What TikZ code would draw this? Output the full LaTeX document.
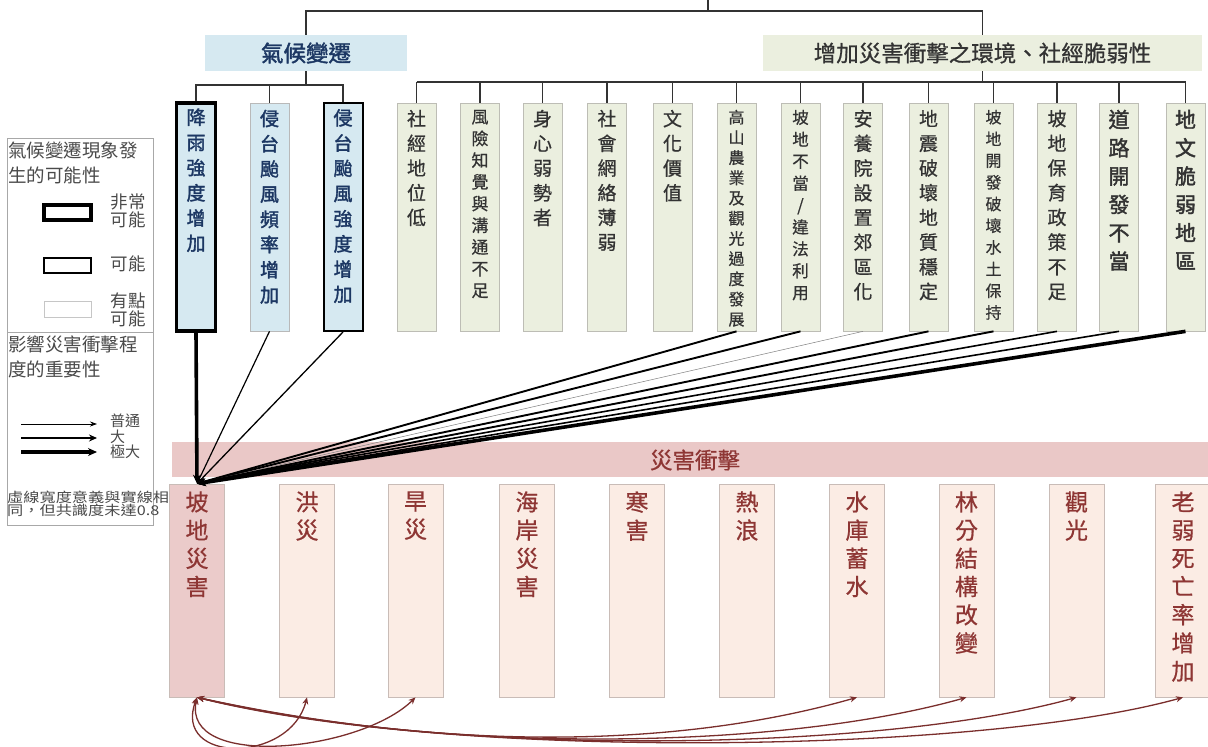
\documentclass[tikz,border=0pt]{standalone}
\usepackage{fontspec}
\usepackage{graphicx}
\newfontfamily\cjk{Noto Sans CJK TC}
\newfontfamily\cjkm{Noto Sans CJK TC}[FakeBold=0.7]
\newfontfamily\cjkb{Noto Sans CJK TC}[FakeBold=1.8]
\usetikzlibrary{arrows.meta,calc}
\definecolor{blfill}{HTML}{D6E9F1}
\definecolor{bltext}{HTML}{1C3763}
\definecolor{bgfill}{HTML}{EBEFDF}
\definecolor{bgbord}{HTML}{BDBDB5}
\definecolor{bgtext}{HTML}{333333}
\definecolor{pkband}{HTML}{EAC8C7}
\definecolor{pkfill1}{HTML}{EBCBCA}
\definecolor{pkfill}{HTML}{FBECE4}
\definecolor{pkbord}{HTML}{C9BCB7}
\definecolor{rdtext}{HTML}{8E3634}
\definecolor{rdline}{HTML}{7A2E2C}
\definecolor{conn}{HTML}{333333}
\definecolor{legc}{HTML}{A8A8A8}
\definecolor{legtext}{HTML}{4A4A4A}
\tikzset{
  connline/.style={draw=conn, line width=1.3pt},
  blbox/.style={draw=black, fill=blfill, minimum width=39pt, minimum height=228pt, inner sep=0pt},
  bgbox/.style={draw=bgbord, fill=bgfill, line width=0.7pt, minimum width=39pt, minimum height=228pt, inner sep=0pt},
  bltxt/.style={text=bltext, inner sep=0pt, align=center, font=\cjkb\fontsize{19}{25.2}\selectfont},
  bgtxt/.style={text=bgtext, inner sep=0pt, align=center, font=\cjkm\fontsize{19}{24.7}\selectfont},
  btbox/.style={draw=pkbord, fill=pkfill, line width=0.7pt, minimum width=55pt, minimum height=213pt, inner sep=0pt},
  bttxt/.style={text=rdtext, inner sep=0pt, align=center, font=\cjkm\fontsize{23}{28.2}\selectfont},
  fanA/.style={draw=gray, line width=0.5pt, -{Stealth[length=6pt,width=5pt]}},
  fanB/.style={draw=black, line width=1.2pt, -{Stealth[length=7pt,width=6pt]}},
  fanC/.style={draw=black, line width=1.9pt, -{Stealth[length=8pt,width=7pt]}},
  fanD/.style={draw=black, line width=3.6pt, -{Stealth[length=9pt,width=8pt]}},
  btarr/.style={draw=rdline, line width=1.3pt, {Stealth[length=7pt,width=6pt]}-{Stealth[length=7pt,width=6pt]}},
  lgtxt/.style={text=legtext, inner sep=0pt, font=\cjk\fontsize{18.5}{24.5}\selectfont, align=left},
  lgsm/.style={text=legtext, inner sep=0pt, font=\cjk\fontsize{17.5}{18.5}\selectfont, align=left},
  lgar/.style={text=legtext, inner sep=0pt, font=\cjk\fontsize{15}{16}\selectfont, align=left},
}
\newcommand\topbox[5]{%
  \node[#3] (#1) at (#2,217) {};
  \node[#4, anchor=north] (#1t) at ([yshift=-7pt]#1.north) {#5};
}
\newcommand\botbox[4]{%
  \node[btbox, #3] (#1) at (#2,590.5) {};
  \node[bttxt, anchor=north] (#1t) at ([yshift=-7.5pt]#1.north) {#4};
}
\begin{document}
\begin{tikzpicture}[x=1pt,y=-1pt]
\useasboundingbox (0,0) rectangle (1208,747);
\fill[white] (0,0) rectangle (1208,747);

% headers
\node[fill=blfill, minimum width=202pt, minimum height=36pt, inner sep=0pt, text=bltext, font=\cjkb\fontsize{22.5}{24}\selectfont] (hL) at (306,53) {氣候變遷};
\node[fill=bgfill, minimum width=439pt, minimum height=36pt, inner sep=0pt, text=bgtext, font=\cjkm\fontsize{22.5}{24}\selectfont] (hR) at (982.5,53) {增加災害衝擊之環境、社經脆弱性};

% top connectors
\coordinate (topEnd) at (708,0);
\coordinate (topM) at (708,11);
\coordinate (topL) at (306,11);
\coordinate (topR) at (982.5,11);
\draw[connline] (topEnd) -- (topM);
\draw[connline] (hL.north) -- (topL) -- (topR) -- (hR.north);

% top boxes
\topbox{t1}{196}{blbox, line width=3.4pt}{bltxt}{降\\雨\\強\\度\\增\\加}
\topbox{t2}{269.5}{blbox, draw=gray!55, line width=0.7pt}{bltxt}{侵\\台\\颱\\風\\頻\\率\\增\\加}
\topbox{t3}{343}{blbox, line width=2pt}{bltxt}{侵\\台\\颱\\風\\強\\度\\增\\加}
\topbox{t4}{416.5}{bgbox}{bgtxt}{社\\經\\地\\位\\低}
\topbox{t5}{480}{bgbox}{bgtxt, font=\cjkm\fontsize{17}{21.7}\selectfont}{風\\險\\知\\覺\\與\\溝\\通\\不\\足}
\topbox{t6}{542.5}{bgbox}{bgtxt}{身\\心\\弱\\勢\\者}
\topbox{t7}{607}{bgbox}{bgtxt}{社\\會\\網\\絡\\薄\\弱}
\topbox{t8}{672.5}{bgbox}{bgtxt}{文\\化\\價\\值}
\topbox{t9}{736.5}{bgbox}{bgtxt, font=\cjkm\fontsize{16}{20.2}\selectfont}{高\\山\\農\\業\\及\\觀\\光\\過\\度\\發\\展}
\topbox{t10}{800.5}{bgbox}{bgtxt, font=\cjkm\fontsize{16.5}{21.9}\selectfont}{坡\\地\\不\\當\\/\\違\\法\\利\\用}
\topbox{t11}{863}{bgbox}{bgtxt}{安\\養\\院\\設\\置\\郊\\區\\化}
\topbox{t12}{928.5}{bgbox}{bgtxt}{地\\震\\破\\壞\\地\\質\\穩\\定}
\topbox{t13}{993.5}{bgbox}{bgtxt, font=\cjkm\fontsize{16}{21.7}\selectfont}{坡\\地\\開\\發\\破\\壞\\水\\土\\保\\持}
\topbox{t14}{1057}{bgbox}{bgtxt}{坡\\地\\保\\育\\政\\策\\不\\足}
\topbox{t15}{1119}{bgbox}{bgtxt, font=\cjkb\fontsize{21}{28.3}\selectfont}{道\\路\\開\\發\\不\\當}
\topbox{t16}{1185.5}{bgbox}{bgtxt, font=\cjkb\fontsize{21}{28.3}\selectfont}{地\\文\\脆\\弱\\地\\區}

% branch connectors
\coordinate (brL) at (0,85);
\coordinate (brR) at (0,82);
\draw[connline] (hL.south) -- (hL.south |- brL);
\draw[connline] (t1.north) -- (t1.north |- brL) -- (t3.north |- brL) -- (t3.north);
\draw[connline] (t2.north) -- (t2.north |- brL);
\draw[connline] (hR.south) -- (hR.south |- brR);
\draw[connline] (t4.north |- brR) -- (t16.north |- brR);
\foreach \i in {4,...,16} {\draw[connline] (t\i.north) -- (t\i.north |- brR);}

% band
\node[fill=pkband, minimum width=1040pt, minimum height=35pt, inner sep=0pt, anchor=west] (band) at (172,459.5) {};
\node[text=rdtext, font=\cjkm\fontsize{22.5}{24}\selectfont, inner sep=0pt] (bandt) at (695,460) {災害衝擊};

% bottom boxes
\botbox{b1}{197}{fill=pkfill1}{坡\\地\\災\\害}
\botbox{b2}{307}{}{洪\\災}
\botbox{b3}{415.5}{}{旱\\災}
\botbox{b4}{527}{}{海\\岸\\災\\害}
\botbox{b5}{637}{}{寒\\害}
\botbox{b6}{747}{}{熱\\浪}
\botbox{b7}{857}{}{水\\庫\\蓄\\水}
\botbox{b8}{966.5}{}{林\\分\\結\\構\\改\\變}
\botbox{b9}{1076.5}{}{觀\\光}
\botbox{b10}{1183}{}{老\\弱\\死\\亡\\率\\增\\加}

% fan lines
\draw[fanB] (t2.south) -- (b1.north);
\draw[fanB, line width=1.3pt] (t3.south) -- (b1.north);
\draw[fanC] (t9.south) -- (b1.north);
\draw[fanC] (t10.south) -- (b1.north);
\draw[fanA] (t11.south) -- (b1.north);
\draw[fanC] (t12.south) -- (b1.north);
\draw[fanC] (t13.south) -- (b1.north);
\draw[fanC, line width=1.6pt] (t14.south) -- (b1.north);
\draw[fanC, line width=1.6pt] (t15.south) -- (b1.north);
\draw[fanD] (t16.south) -- (b1.north);
\draw[fanD] (t1.south) -- (b1.north);

% bottom arrows
\draw[btarr] (b1.south) .. controls (172,764) and (290,764) .. (b2.south);
\draw[btarr] (b1.south) .. controls (182,770) and (360,752) .. (b3.south);
\draw[btarr] (b1.south) .. controls (450,752) and (680,748) .. (b7.south);
\draw[btarr] (b1.south) .. controls (450,755) and (780,750) .. (b8.south);
\draw[btarr] (b1.south) .. controls (450,758) and (880,752) .. (b9.south);
\draw[btarr] (b1.south) .. controls (450,761) and (980,754) .. (b10.south);

% legend
\node[draw=legc, line width=0.8pt, minimum width=146pt, minimum height=387pt, inner sep=0pt, anchor=north west] (leg) at (7,138) {};
\coordinate (ldl) at (7,332);
\coordinate (ldr) at (153,332);
\draw[legc, line width=0.8pt] (ldl) -- (ldr);
\node[lgtxt, anchor=north west] (lg1) at (8,142) {氣候變遷現象發\\生的可能性};
\node[lgsm, anchor=center, align=right] (lg2) at (128,211) {非常\\可能};
\node[draw=black, line width=3.4pt, minimum width=47pt, minimum height=15pt, inner sep=0pt] (lr1) at (67.5,212.5) {};
\node[lgsm] (lg3) at (128,264) {可能};
\node[draw=black, line width=2pt, minimum width=47pt, minimum height=15pt, inner sep=0pt] (lr2) at (67,265) {};
\node[lgsm, anchor=center, align=right] (lg4) at (128,310) {有點\\可能};
\node[draw=gray!45, line width=1pt, minimum width=47pt, minimum height=16pt, inner sep=0pt] (lr3) at (67.5,309.5) {};
\node[lgtxt, anchor=north west] (lg5) at (8,336) {影響災害衝擊程\\度的重要性};
\coordinate (la1s) at (21,424); \coordinate (la1e) at (97,424);
\coordinate (la2s) at (21,438); \coordinate (la2e) at (97,438);
\coordinate (la3s) at (21,452); \coordinate (la3e) at (97,452);
\draw[black, line width=0.8pt, -{Stealth[length=7pt,width=5pt]}] (la1s) -- (la1e);
\draw[black, line width=2pt, -{Stealth[length=8pt,width=7pt]}] (la2s) -- (la2e);
\draw[black, line width=3.4pt, -{Stealth[length=9pt,width=8pt]}] (la3s) -- (la3e);
\node[lgar, anchor=west] (lg6) at (110,421) {普通};
\node[lgar, anchor=west] (lg7) at (110,436.5) {大};
\node[lgar, anchor=west] (lg8) at (110,452) {極大};
\node[text=legtext, inner sep=0pt, anchor=north west, align=left, font=\cjk\fontsize{13.5}{13}\selectfont] (lg9) at (7,491) {\scalebox{1.2}[1]{虛線寬度意義與實線相}\\\scalebox{1.2}[1]{同，但共識度未達0.8}};
\end{tikzpicture}
\end{document}
